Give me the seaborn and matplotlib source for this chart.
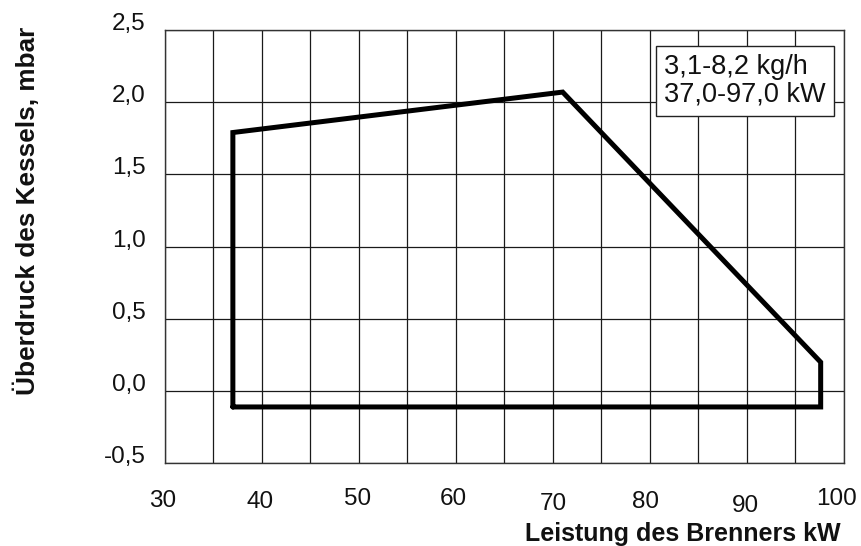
import matplotlib
matplotlib.use("Agg")
import matplotlib.pyplot as plt
import matplotlib.transforms as mtransforms
import seaborn as sns
import pandas as pd

# --- data ---------------------------------------------------------------
# working field polygon (closed): burner output kW vs. boiler overpressure mbar
field_kw = [37.0, 37.0, 71.0, 97.6, 97.6, 37.0]
field_mbar = [-0.11, 1.79, 2.07, 0.20, -0.11, -0.11]

x_ticks = [30, 40, 50, 60, 70, 80, 90, 100]
x_tick_labels = ["30", "40", "50", "60", "70", "80", "90", "100"]
x_grid = [35, 45, 55, 65, 75, 85, 95]
y_ticks = [-0.5, 0.0, 0.5, 1.0, 1.5, 2.0, 2.5]
y_tick_labels = ["-0,5", "0,0", "0,5", "1,0", "1,5", "2,0", "2,5"]

box_lines = ["3,1-8,2 kg/h", "37,0-97,0 kW"]
x_title = "Leistung des Brenners kW"
y_title = "Überdruck des Kessels, mbar"

# small placement offsets (pixels) of the x tick labels, as in the scanned original
x_label_dx = [-2, -2, -1, -3, 0, -4, -2, -7]
x_label_dy = [0, -1, 2, 2, -3, -1, -5, 2]

df = pd.DataFrame({"kw": field_kw, "mbar": field_mbar})

# --- style --------------------------------------------------------------
sns.set_theme(style="white")
plt.rcParams["font.family"] = ["Liberation Sans", "DejaVu Sans"]

fig = plt.figure(figsize=(8.61, 5.46), dpi=100)
ax = fig.add_axes([0.1916, 0.1515, 0.7886, 0.7936])

sns.lineplot(data=df, x="kw", y="mbar", sort=False, estimator=None,
             color="black", linewidth=3.6, ax=ax, zorder=5,
             solid_joinstyle="miter")

ax.set_xlim(30, 100)
ax.set_ylim(-0.5, 2.5)

ax.set_xticks(x_ticks)
ax.set_xticklabels(x_tick_labels)
ax.set_xticks(x_grid, minor=True)
ax.set_yticks(y_ticks)
ax.set_yticklabels(y_tick_labels)

ax.grid(True, which="both", color="#1a1a1a", linewidth=0.9)
ax.set_axisbelow(True)
ax.tick_params(axis="both", which="both", length=0, labelsize=17.5, colors="#111111")
ax.tick_params(axis="x", pad=19)
ax.tick_params(axis="y", pad=14)
for lab in ax.get_yticklabels():
    lab.set_va("baseline")

for lab, dx, dy in zip(ax.get_xticklabels(), x_label_dx, x_label_dy):
    off = mtransforms.ScaledTranslation(dx / 100, dy / 100, fig.dpi_scale_trans)
    lab.set_transform(lab.get_transform() + off)

for sp in ax.spines.values():
    sp.set_color("#333333")
    sp.set_linewidth(1.0)

ax.set_xlabel("")
ax.set_ylabel("")

fig.text(841 / 861, 1 - 541 / 546, x_title, ha="right", va="baseline",
         fontsize=18, fontweight="bold", color="#111111")
fig.text(27 / 861, 1 - 211 / 546, y_title, ha="center", va="center",
         rotation=90, fontsize=18.8, fontweight="bold", color="#111111")

ax.text(0.735, 0.882, "\n".join(box_lines), transform=ax.transAxes,
        ha="left", va="center", fontsize=19.5, color="#111111", linespacing=1.08,
        zorder=6,
        bbox=dict(boxstyle="square,pad=0.3", facecolor="white",
                  edgecolor="#222222", linewidth=1.0))

fig.savefig("out.png", dpi=100)
